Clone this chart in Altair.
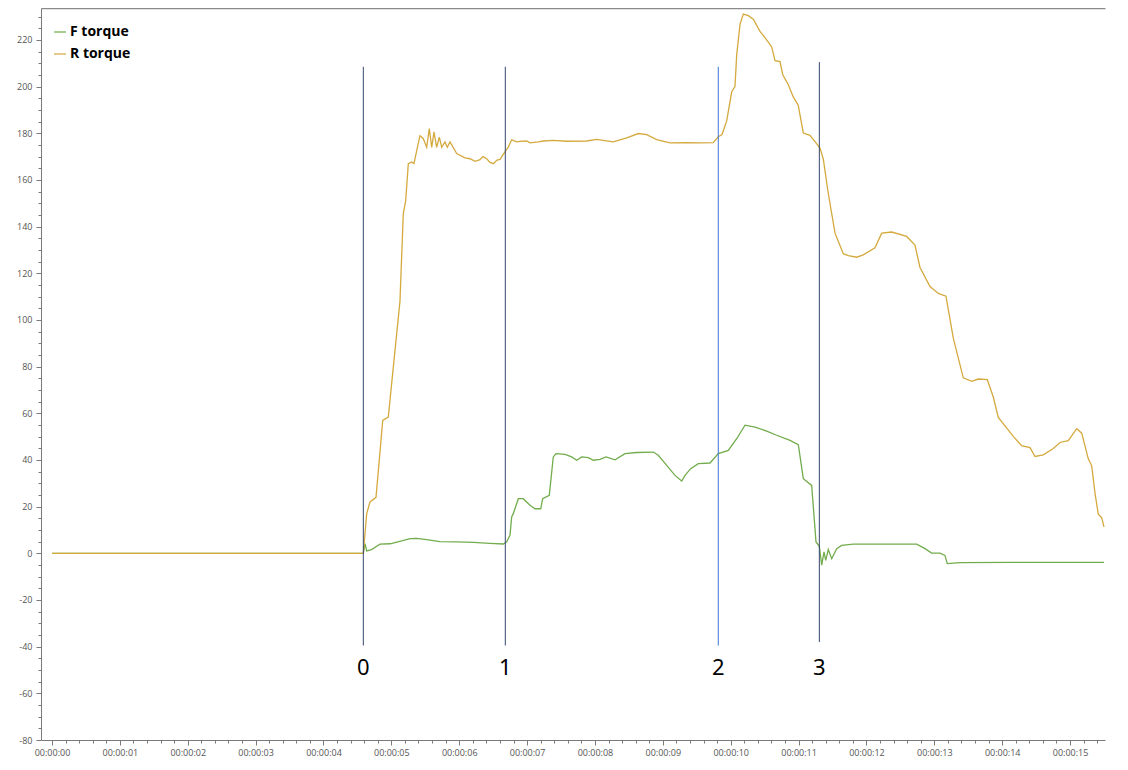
import altair as alt
import pandas as pd

# ---- F torque (green) ----
f_time = [0.0, 4.587, 4.612, 4.637, 4.710, 4.784, 4.833, 4.980, 5.153, 5.275, 5.374,
          5.521, 5.717, 5.963, 6.207, 6.454, 6.650, 6.700, 6.748, 6.773, 6.797,
          6.871, 6.944, 7.043, 7.117, 7.201, 7.230, 7.327, 7.386, 7.426, 7.559,
          7.657, 7.731, 7.805, 7.902, 7.976, 8.074, 8.163, 8.295, 8.443, 8.615,
          8.860, 8.933, 9.057, 9.179, 9.278, 9.327, 9.411, 9.523, 9.695, 9.817,
          9.965, 10.088, 10.211, 10.358, 10.530, 10.678, 10.874, 10.996, 11.070,
          11.193, 11.257, 11.306, 11.341, 11.375, 11.400, 11.438, 11.488, 11.562,
          11.635, 11.806, 12.151, 12.741, 12.863, 12.961, 13.084, 13.157, 13.191,
          13.379, 14.115, 14.852, 15.500]
f_torque = [0.0, 0.0, 4.1, 1.0, 1.6, 3.0, 3.9, 4.1, 5.3, 6.3, 6.4,
            5.9, 5.0, 4.9, 4.7, 4.3, 4.0, 4.9, 7.7, 15.6, 17.0,
            23.4, 23.4, 20.6, 19.1, 19.1, 23.4, 24.9, 41.3, 42.7, 42.4,
            41.3, 39.9, 41.3, 41.0, 39.9, 40.3, 41.3, 40.1, 42.7, 43.2,
            43.4, 42.0, 37.7, 33.4, 31.0, 33.4, 36.3, 38.4, 38.7, 42.7,
            44.1, 49.1, 54.9, 54.1, 52.4, 50.6, 48.4, 46.6, 32.0,
            29.1, 4.9, 3.0, -5.1, 0.6, -3.0, 1.6, -2.3, 2.0,
            3.4, 3.9, 3.9, 3.9, 2.0, 0.1, 0.1, -0.9, -4.4,
            -4.0, -3.9, -3.9, -3.9]

# ---- R torque (gold) ----
r_time = [0.0, 4.587, 4.612, 4.637, 4.685, 4.774, 4.873, 4.955, 4.980, 5.029, 5.127,
          5.176, 5.211, 5.250, 5.300, 5.334, 5.374, 5.422, 5.471, 5.521, 5.559,
          5.595, 5.628, 5.668, 5.707, 5.742, 5.790, 5.824, 5.864, 5.963, 6.085,
          6.159, 6.233, 6.306, 6.350, 6.405, 6.454, 6.502, 6.557, 6.601, 6.674,
          6.723, 6.773, 6.847, 6.896, 6.994, 7.043, 7.165, 7.239, 7.386, 7.584,
          7.878, 8.026, 8.270, 8.468, 8.639, 8.762, 8.910, 9.106, 9.351, 9.548,
          9.744, 9.817, 9.872, 9.941, 10.015, 10.063, 10.088, 10.137, 10.186, 10.259,
          10.333, 10.432, 10.530, 10.604, 10.653, 10.726, 10.766, 10.849, 10.922, 10.996,
          11.070, 11.168, 11.242, 11.316, 11.364, 11.438, 11.537, 11.659, 11.733, 11.856,
          11.954, 12.126, 12.225, 12.372, 12.593, 12.715, 12.789, 12.937, 13.059, 13.172,
          13.280, 13.427, 13.551, 13.648, 13.781, 13.869, 13.943, 14.164, 14.287, 14.410,
          14.484, 14.606, 14.753, 14.852, 14.974, 15.098, 15.172, 15.269, 15.319, 15.368,
          15.416, 15.466, 15.500]
r_torque = [0.0, 0.0, 8.6, 17.0, 22.0, 24.0, 57.0, 58.4, 65.6, 79.8, 108.0,
            145.6, 151.0, 167.0, 167.7, 167.0, 172.7, 179.0, 177.7, 174.0, 182.0,
            174.0, 180.6, 174.0, 178.4, 174.0, 176.3, 174.0, 176.3, 171.3, 169.5,
            169.1, 168.0, 168.7, 170.0, 169.1, 167.5, 167.0, 168.5, 168.8, 172.0,
            174.1, 177.2, 176.3, 176.5, 176.7, 175.9, 176.3, 176.7, 177.0, 176.6,
            176.7, 177.4, 176.3, 178.0, 179.9, 179.4, 177.3, 175.9, 176.0, 175.9,
            176.0, 178.5, 179.5, 185.3, 197.8, 200.0, 213.4, 226.7, 231.1, 230.4,
            228.9, 223.7, 220.0, 217.0, 211.1, 210.7, 205.2, 200.8, 195.6, 191.9,
            180.1, 179.1, 176.4, 173.7, 169.0, 154.2, 137.2, 128.4, 127.6, 126.9,
            127.9, 130.9, 137.2, 137.7, 135.8, 132.1, 122.5, 114.3, 111.4, 110.2,
            92.2, 75.2, 73.7, 74.7, 74.4, 67.0, 58.2, 50.1, 46.1, 45.3,
            41.5, 42.2, 44.9, 47.5, 48.3, 53.4, 51.5, 40.5, 37.5, 25.7,
            16.8, 15.3, 11.3]

# ---- event markers ----
marker_time = [4.587, 6.679, 9.817, 11.306]
marker_label = ["0", "1", "2", "3"]
marker_top = [208.5, 208.5, 208.5, 210.5]
marker_bottom = [-39.5, -39.5, -39.5, -38.0]
marker_kind = ["event", "event", "current", "event"]

series_names = ["F torque", "R torque"]
series_colors = ["#72AC4C", "#D4A93E"]

x_ticks = [round(i * 0.2, 1) for i in range(78)]
y_ticks = list(range(-80, 235, 5))

df_f = pd.DataFrame({"t": f_time, "v": f_torque, "series": "F torque"})
df_r = pd.DataFrame({"t": r_time, "v": r_torque, "series": "R torque"})
mk = pd.DataFrame({"t": marker_time, "label": marker_label, "top": marker_top,
                   "bottom": marker_bottom, "kind": marker_kind})

x_scale = alt.Scale(domain=[-0.162, 15.515], nice=False, zero=False)
y_scale = alt.Scale(domain=[-80, 233.7], nice=False, zero=False)

axis_common = dict(grid=False, domainColor="#7a7a7a", tickColor="#7a7a7a",
                   labelColor="#555555", labelFont="Open Sans", labelFontSize=9,
                   labelOverlap=False, title=None)

x_axis = alt.Axis(
    orient="bottom", values=x_ticks,
    labelExpr="abs(datum.value - round(datum.value)) < 0.01 ? '00:00:' + (round(datum.value) < 10 ? '0' : '') + round(datum.value) : ''",
    tickSize={"condition": {"test": "abs(datum.value - round(datum.value)) < 0.01", "value": 5}, "value": 3},
    labelPadding=3, **axis_common)

y_axis = alt.Axis(
    orient="left", values=y_ticks,
    labelExpr="datum.value % 20 === 0 ? '' + datum.value : ''",
    tickSize={"condition": {"test": "datum.value % 20 === 0", "value": 5}, "value": 3},
    labelPadding=4, **axis_common)

top_axis = alt.Axis(orient="top", labels=False, ticks=False, domain=True,
                    domainColor="#8a8a8a", domainWidth=1.5, grid=False, title=None)

color_enc = alt.Color("series:N",
                      scale=alt.Scale(domain=series_names, range=series_colors),
                      legend=alt.Legend(title=None, orient="none", legendX=12, legendY=17,
                                        symbolType="stroke", symbolSize=144,
                                        symbolStrokeWidth=2, symbolOpacity=0.6,
                                        labelFont="Open Sans", labelFontSize=14,
                                        labelFontWeight="bold", labelColor="black",
                                        labelOffset=3, rowPadding=8))

line_f = alt.Chart(df_f).mark_line(strokeWidth=1.3).encode(
    x=alt.X("t:Q", scale=x_scale, axis=x_axis),
    y=alt.Y("v:Q", scale=y_scale, axis=y_axis),
    color=color_enc,
)

line_r = alt.Chart(df_r).mark_line(strokeWidth=1.3).encode(
    x=alt.X("t:Q", scale=x_scale, axis=None),
    y=alt.Y("v:Q", scale=y_scale, axis=None),
    color=color_enc,
)

rules = alt.Chart(mk).mark_rule(strokeWidth=1).encode(
    x=alt.X("t:Q", scale=x_scale, axis=top_axis),
    y=alt.Y("top:Q", scale=y_scale, axis=None),
    y2="bottom:Q",
    stroke=alt.Stroke("kind:N",
                      scale=alt.Scale(domain=["event", "current"], range=["#34466e", "#3d73d6"]),
                      legend=None),
)

texts = alt.Chart(mk).transform_joinaggregate(
    label_y="min(bottom)"
).mark_text(fontSize=22, font="Noto Sans", baseline="middle",
            dy=23, color="black").encode(
    x=alt.X("t:Q", scale=x_scale, axis=None),
    y=alt.Y("label_y:Q", scale=y_scale, axis=None),
    text="label:N",
)

chart = alt.layer(line_f, line_r, rules, texts).resolve_axis(
    x="independent", y="independent"
).properties(
    width=1064, height=732,
    padding={"left": 33, "top": 0, "right": 15, "bottom": 25},
    autosize=alt.AutoSizeParams(type="none"),
).configure_view(stroke=None)

chart.save("out.html", embed_options={"renderer": "svg", "actions": False})
